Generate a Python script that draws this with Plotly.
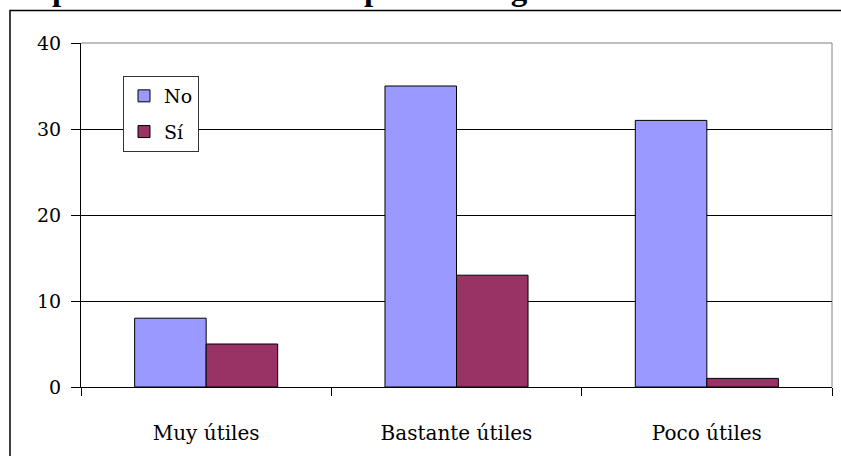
import plotly.graph_objects as go

# Categories and series values
categories = ["Muy útiles", "Bastante útiles", "Poco útiles"]
no_values = [8, 35, 31]
si_values = [5, 13, 1]
y_ticks = [0, 10, 20, 30, 40]

title_text = "Opinión de padres: Educación en pesca la seguridad de los estudiantes"

W, H = 841, 456
L, R, T, B = 81, 9, 43, 69
pw, ph = W - L - R, H - T - B

def px_x(x):
    return (x - L) / pw

def px_y(y):
    return 1 - (y - T) / ph

serif = "DejaVu Serif, Liberation Serif, serif"

fig = go.Figure()
fig.add_trace(go.Bar(
    x=categories, y=no_values, name="No",
    marker=dict(color="#9999FF", line=dict(color="#000000", width=1)),
    legendgroup="a",
))
fig.add_trace(go.Bar(
    x=categories, y=si_values, name="Sí",
    marker=dict(color="#993366", line=dict(color="#000000", width=1)),
    legendgroup="b",
))

fig.update_layout(
    width=W, height=H,
    margin=dict(l=L, r=R, t=T, b=B, pad=0),
    paper_bgcolor="white",
    plot_bgcolor="white",
    barmode="group",
    bargap=1.5 / 3.5,
    bargroupgap=0,
    font=dict(family=serif, size=19, color="#000000"),
    showlegend=True,
    legend=dict(
        x=px_x(123), y=px_y(76), xanchor="left", yanchor="top",
        bgcolor="white", bordercolor="#333333", borderwidth=1,
        font=dict(family=serif, size=19, color="#000000"),
        tracegroupgap=8,
        itemwidth=30,
        traceorder="grouped",
    ),
    xaxis=dict(
        type="category",
        showgrid=False,
        showline=True, linecolor="#000000", linewidth=1,
        ticks="outside", tickson="boundaries", ticklen=8, tickcolor="#000000",
        ticklabelstandoff=28,
        tickfont=dict(family=serif, size=20, color="#000000"),
    ),
    yaxis=dict(
        range=[0, 40],
        tickvals=y_ticks,
        showgrid=True, gridcolor="#000000", gridwidth=1,
        showline=True, linecolor="#000000", linewidth=1,
        ticks="outside", ticklen=9, tickcolor="#000000",
        ticklabelstandoff=6,
        zeroline=False,
        tickfont=dict(family=serif, size=19, color="#000000"),
    ),
)

# Plot area border (top and right edges in gray)
fig.add_shape(type="line", xref="paper", yref="paper",
              x0=0, x1=1, y0=1, y1=1, line=dict(color="#808080", width=1), layer="below")
fig.add_shape(type="line", xref="paper", yref="paper",
              x0=1, x1=1, y0=0, y1=1, line=dict(color="#808080", width=1), layer="below")

# Outer chart frame
fig.add_shape(type="rect", xref="paper", yref="paper",
              x0=px_x(10), x1=px_x(860), y0=px_y(480), y1=px_y(10.5),
              line=dict(color="#000000", width=1.5), fillcolor="rgba(0,0,0,0)")

# Chart title, running off the top edge
fig.add_annotation(
    text="<b>" + title_text + "</b>",
    xref="paper", yref="paper",
    x=px_x(-115), y=px_y(9), xanchor="left", yanchor="bottom",
    showarrow=False,
    font=dict(family="Liberation Serif, serif", size=33, color="#000000"),
)

fig.write_html("out.html")
